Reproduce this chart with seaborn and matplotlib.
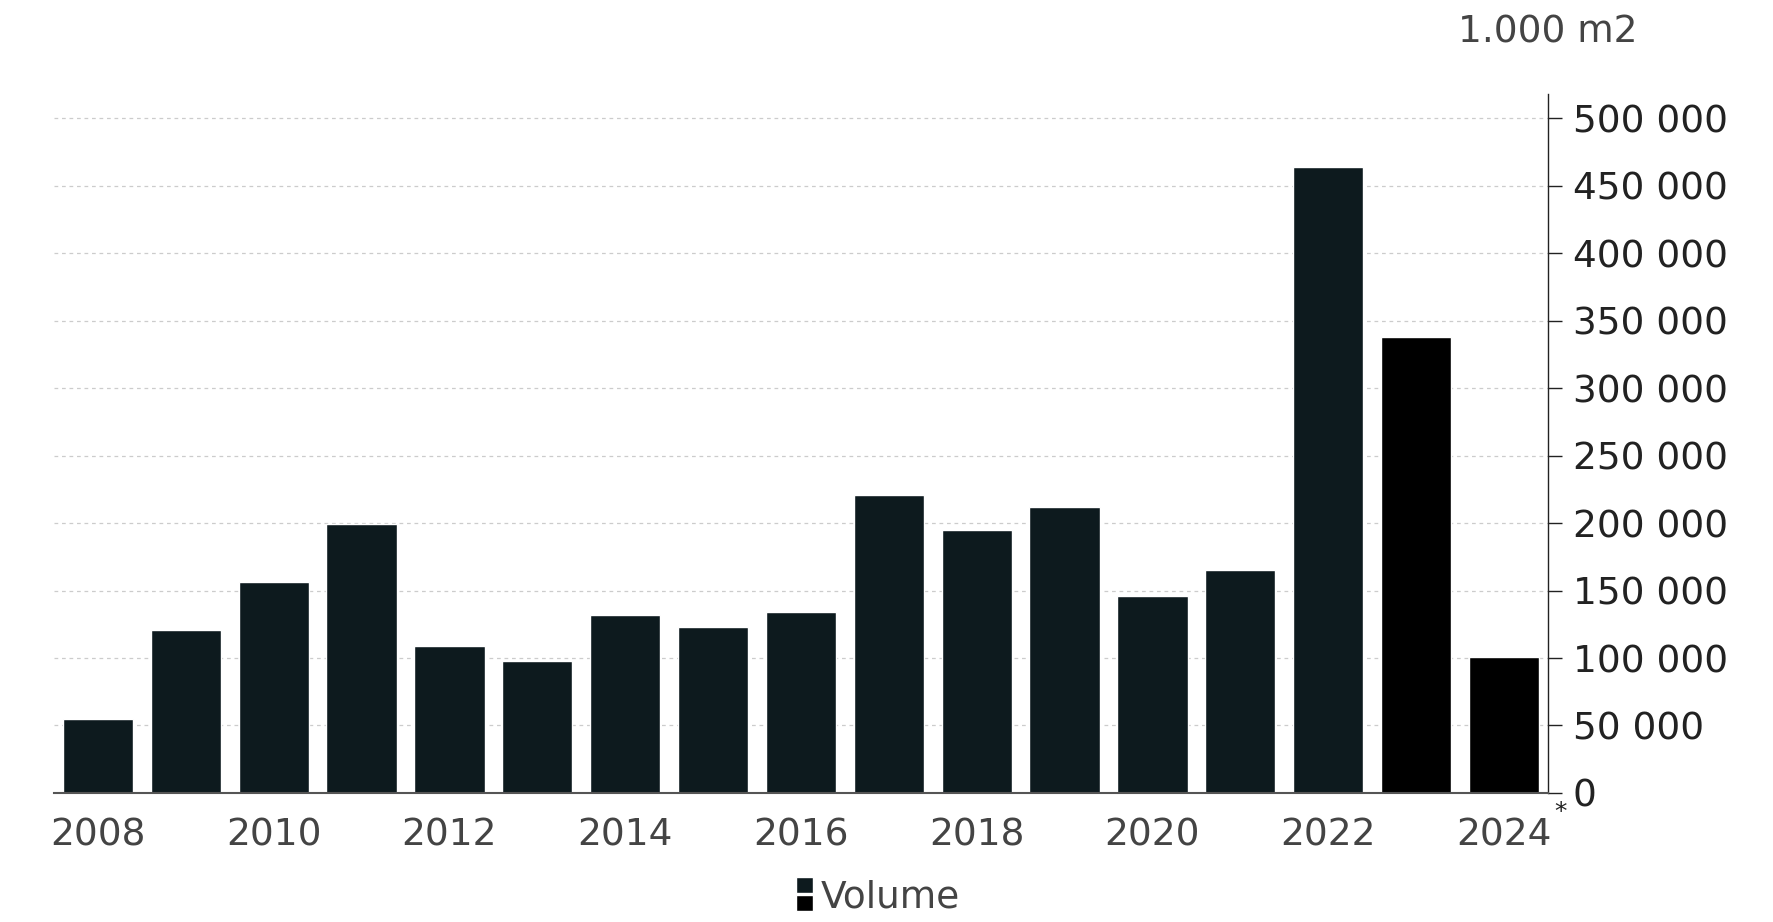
import matplotlib
matplotlib.use("Agg")
import matplotlib.pyplot as plt
import matplotlib.patches as mpatches
from matplotlib.legend_handler import HandlerBase
from matplotlib.ticker import FuncFormatter, FixedLocator
import numpy as np
import pandas as pd
import seaborn as sns

years = [2008, 2009, 2010, 2011, 2012, 2013, 2014, 2015, 2016,
         2017, 2018, 2019, 2020, 2021, 2022, 2023, 2024]
volume = [55000, 121000, 156000, 199000, 109000, 98000, 132000, 123000, 134000,
          221000, 195000, 212000, 146000, 165000, 464000, 338000, 101000]
label_years = ["2008", "2010", "2012", "2014", "2016", "2018", "2020", "2022", "2024"]
y_ticks = [0, 50000, 100000, 150000, 200000, 250000, 300000, 350000, 400000, 450000, 500000]

DARK = "#0d1a1e"
BLACK = "#000000"
bar_colors = [DARK] * 15 + [BLACK] * 2

sns.set_theme(style="white")
plt.rcParams["font.family"] = ["DejaVu Sans"]

df = pd.DataFrame({"year": [str(y) for y in years], "volume": volume})

fig = plt.figure(figsize=(17.73, 9.22), dpi=100)
ax = fig.add_axes([0.0305, 0.14, 0.8425, 0.758])

sns.barplot(data=df, x="year", y="volume", hue="year",
            palette=dict(zip(df["year"], bar_colors)),
            width=0.8, saturation=1, legend=False, ax=ax)

n = len(years)
ax.set_xlim(-0.5, n - 0.5)
ax.set_ylim(0, 518000)

# y axis on the right
ax.yaxis.tick_right()
ax.set_yticks(y_ticks)
ax.yaxis.set_major_formatter(FuncFormatter(lambda v, _: f"{int(v):,}".replace(",", " ")))
ax.tick_params(axis="y", which="major", direction="out", length=10, width=1,
               color="#222222", labelsize=27, labelcolor="#222222", pad=8)

# x axis: ticks at category boundaries, labels at even-year centres
ax.xaxis.set_major_locator(FixedLocator(np.arange(-0.5, n, 1.0)))
ax.xaxis.set_minor_locator(FixedLocator([i for i, y in enumerate(years) if str(y) in label_years]))
ax.set_xticklabels([])
ax.set_xticklabels(label_years, minor=True)
ax.tick_params(axis="x", which="major", direction="out", length=10, width=1.5,
               color="#666666")
ax.tick_params(axis="x", which="minor", length=0, labelsize=27,
               labelcolor="#444444", pad=18)

ax.set_xlabel("")
ax.set_ylabel("")

for side in ["left", "top"]:
    ax.spines[side].set_visible(False)
ax.spines["right"].set_color("#222222")
ax.spines["right"].set_linewidth(1)
ax.spines["bottom"].set_color("#555555")
ax.spines["bottom"].set_linewidth(1.5)

ax.yaxis.grid(True, linestyle=(0, (3, 3)), color="#cccccc", linewidth=0.9)
ax.xaxis.grid(False)
ax.set_axisbelow(True)

# asterisk next to 2024
ax.text(n - 0.5 + 0.07, -0.01, "*", transform=ax.get_xaxis_transform(),
        ha="left", va="top", fontsize=18, color="#222222")

# unit label
fig.text(0.873, 0.965, "1.000 m2", ha="center", va="center",
         fontsize=27, color="#444444")


class SplitSquare(HandlerBase):
    def create_artists(self, legend, orig_handle, xdescent, ydescent,
                       width, height, fontsize, trans):
        w = height * 0.65
        x0 = width - w
        top = mpatches.Rectangle((x0, height / 2 + 1), w, height / 2 + 2,
                                 facecolor=DARK, transform=trans)
        bot = mpatches.Rectangle((x0, -3), w, height / 2 + 2,
                                 facecolor=BLACK, transform=trans)
        return [top, bot]


handle = mpatches.Patch(facecolor=DARK)
leg = fig.legend([handle], ["Volume"], handler_map={mpatches.Patch: SplitSquare()},
                 loc="center", bbox_to_anchor=(0.494, 0.027), frameon=False,
                 fontsize=27, handlelength=0.55, handletextpad=0.2)
for t in leg.get_texts():
    t.set_color("#444444")

fig.savefig("out.png", dpi=100)
